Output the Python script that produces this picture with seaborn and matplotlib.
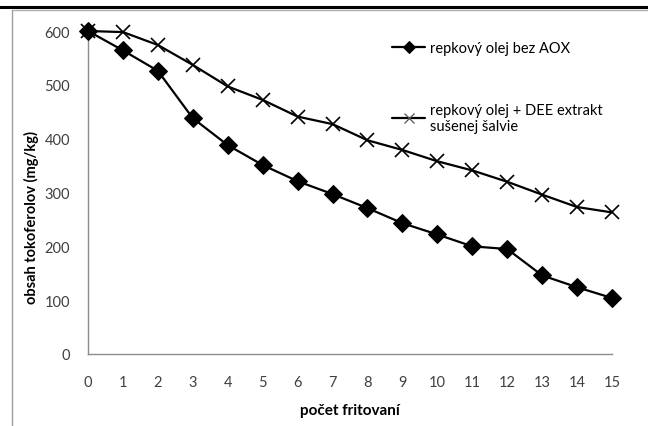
import matplotlib
matplotlib.use("Agg")
import matplotlib.pyplot as plt
import seaborn as sns
import pandas as pd
from matplotlib.lines import Line2D

# data
fritovania = list(range(16))
bez_aox = [600, 564, 526, 438, 388, 351, 321, 297, 271, 243, 222, 200, 195, 146, 124, 104]
dee_salvia = [600, 598, 574, 537, 497, 472, 441, 427, 397, 379, 358, 341, 320, 296, 273, 263]
label_1 = "repkový olej bez AOX"
label_2 = "repkový olej + DEE extrakt\nsušenej šalvie"
x_label = "počet fritovaní"
y_label = "obsah tokoferolov (mg/kg)"
y_ticks = [0, 100, 200, 300, 400, 500, 600]

sns.set_theme(style="white")
plt.rcParams['font.family'] = ['Lato', 'DejaVu Sans']

W, H = 648, 427
fig = plt.figure(figsize=(W / 100, H / 100), dpi=100)
ax = fig.add_axes([88 / W, (H - 355) / H, 524 / W, 323 / H])

df = pd.DataFrame({"x": fritovania, "a": bez_aox, "b": dee_salvia})
sns.lineplot(data=df, x="x", y="a", ax=ax, color="black", linewidth=1.6,
             marker="D", markersize=9, markeredgecolor="black",
             label=label_1, clip_on=False, zorder=3)
sns.lineplot(data=df, x="x", y="b", ax=ax, color="black", linewidth=1.6,
             marker="x", markersize=9.5, markeredgewidth=1.2, markeredgecolor="black",
             label=label_2, clip_on=False, zorder=3)

ax.set_xlim(0, 15)
ax.set_ylim(0, 600)
ax.set_xticks(fritovania)
ax.set_yticks(y_ticks)
ax.set_xticklabels([str(v) for v in fritovania])
ax.set_yticklabels([str(v) for v in y_ticks])

for s in ["top", "right"]:
    ax.spines[s].set_visible(False)
for s in ["left", "bottom"]:
    ax.spines[s].set_color("#8c8c8c")
    ax.spines[s].set_linewidth(1.0)
ax.tick_params(axis="both", which="both", direction="out", length=5, width=1.0,
               color="#8c8c8c", labelcolor="#404040", labelsize=10.5)
ax.tick_params(axis="x", pad=10)
ax.tick_params(axis="y", pad=8)
ax.grid(False)

ax.set_xlabel(x_label, fontsize=11, fontweight="bold", color="black", labelpad=10)
ax.set_ylabel(y_label, fontsize=10.5, fontweight="bold", color="black", labelpad=2)
ax.yaxis.set_label_coords(31 / 524 - 88 / 524, (355 - 217) / 323)
ax.yaxis.label.set_va("center")

leg = ax.legend(loc="upper left", bbox_to_anchor=(298 / 524, 1.0 - 4 / 323), frameon=False,
                fontsize=10.5, handlelength=2.3, handletextpad=0.3,
                labelspacing=3.3, borderaxespad=0)
for t in leg.get_texts():
    t.set_color("black")
hs = leg.legend_handles
hs[0].set_markersize(6.5)
hs[1].set_markersize(7)
hs[1].set_markeredgecolor("#555555")
hs[1].set_markeredgewidth(0.9)

# page decorations: document rule at top and chart border at left/top
fig.add_artist(Line2D([0, 1], [1 - 8 / H, 1 - 8 / H], transform=fig.transFigure,
                      color="black", linewidth=2.2))
fig.add_artist(Line2D([12 / W, 1], [1 - 11 / H, 1 - 11 / H], transform=fig.transFigure,
                      color="#b0b0b0", linewidth=1.0))
fig.add_artist(Line2D([12 / W, 12 / W], [0, 1 - 11 / H], transform=fig.transFigure,
                      color="#a0a0a0", linewidth=1.0))
fig.text(28 / W, 1 + 5.5 / H, "drying napoeoeo", fontsize=16,
         family=["Liberation Serif"], va="baseline", ha="left", color="black")

fig.savefig("out.png", dpi=100)
